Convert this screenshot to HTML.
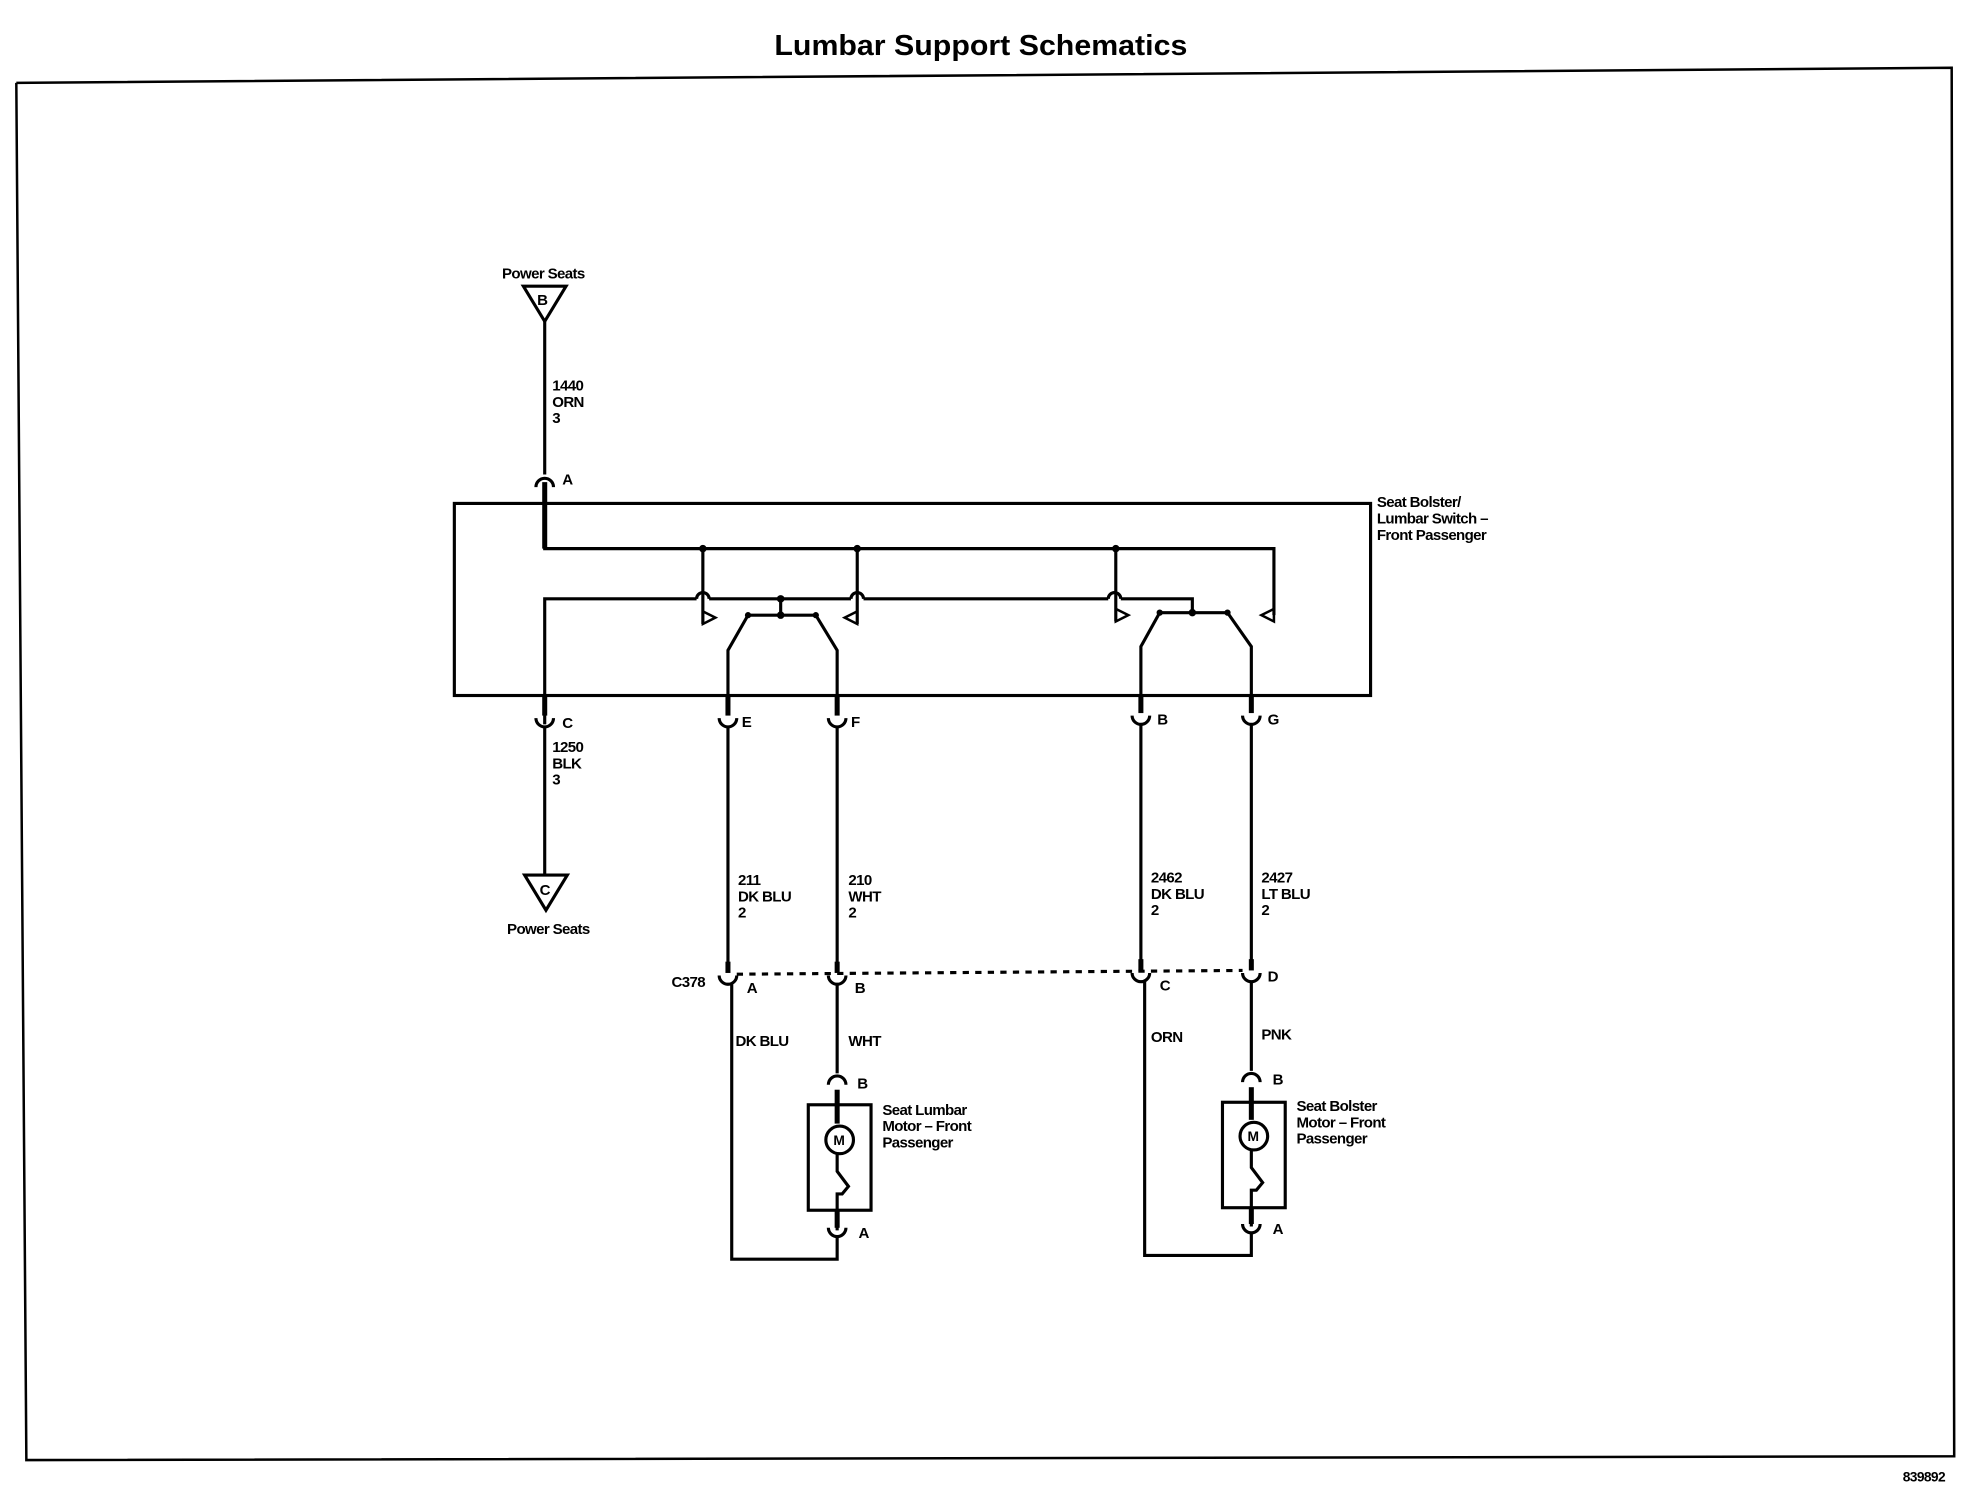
<!DOCTYPE html>
<html><head><style>html,body{margin:0;padding:0;background:#fff}svg{display:block}</style></head><body>
<svg width="1968" height="1504" viewBox="0 0 1568 1198" preserveAspectRatio="none" xmlns="http://www.w3.org/2000/svg" font-family="Liberation Sans, sans-serif" font-weight="bold">
<g fill="none" stroke="#000" stroke-width="2.5">
<polyline points="13,66 1555,54 1557,1160 21,1163 13,66" stroke-width="2"/>
<rect x="362" y="401" width="730" height="153"/>
<polygon points="417,228 451,228 434,256"/>
<line x1="434" y1="256" x2="434" y2="378"/>
<path d="M427,388 A7,7 0 0 1 441,388"/>
<line x1="434" y1="384" x2="434" y2="437" stroke-width="4"/>
<polyline points="434,400 434,437 1015,437 1015,490"/>
<polygon points="1015,485 1005,490 1015,495" stroke-width="2"/>
<polyline points="434,577 434,477 555,477"/><path d="M555,477 A5,5 0 0 1 565,477"/>
<line x1="565" y1="477" x2="678" y2="477"/><path d="M678,477 A5,5 0 0 1 688,477"/>
<line x1="688" y1="477" x2="883" y2="477"/><path d="M883,477 A5,5 0 0 1 893,477"/>
<polyline points="893,477 950,477 950,488"/>
<line x1="622" y1="477" x2="622" y2="490"/>
<line x1="560" y1="437" x2="560" y2="497"/><polygon points="560,487 570,492 560,497" stroke-width="2"/>
<line x1="683" y1="437" x2="683" y2="497"/><polygon points="683,487 673,492 683,497" stroke-width="2"/>
<line x1="596" y1="490" x2="650" y2="490"/>
<polyline points="596,490 580,518 580,568"/><polyline points="650,490 667,518 667,568"/>
<line x1="889" y1="437" x2="889" y2="495"/><polygon points="889,485 899,490 889,495" stroke-width="2"/>
<line x1="924" y1="488" x2="978" y2="488"/>
<polyline points="924,488 909,515 909,566"/><polyline points="978,488 997,515 997,566"/>
<line x1="434" y1="555" x2="434" y2="570" stroke-width="4"/>
<path d="M427,572 A7,7 0 0 0 441,572"/>
<line x1="434" y1="579" x2="434" y2="697"/>
<polygon points="418,697 452,697 435,725"/>
<g stroke-width="4"><line x1="580" y1="555" x2="580" y2="570"/><line x1="667" y1="555" x2="667" y2="570"/><line x1="909" y1="555" x2="909" y2="568"/><line x1="997" y1="555" x2="997" y2="568"/></g>
<path d="M573,572 A7,7 0 0 0 587,572"/><path d="M660,572 A7,7 0 0 0 674,572"/>
<path d="M902,570 A7,7 0 0 0 916,570"/><path d="M990,570 A7,7 0 0 0 1004,570"/>
<line x1="580" y1="579" x2="580" y2="768"/><line x1="667" y1="579" x2="667" y2="768"/>
<line x1="909" y1="577" x2="909" y2="766"/><line x1="997" y1="577" x2="997" y2="766"/>
<g stroke-width="4"><line x1="580" y1="766" x2="580" y2="775"/><line x1="667" y1="766" x2="667" y2="775"/><line x1="909" y1="764" x2="909" y2="773"/><line x1="997" y1="764" x2="997" y2="773"/></g>
<path d="M573,777 A7,7 0 0 0 587,777"/><path d="M660,777 A7,7 0 0 0 674,777"/>
<path d="M902,775 A7,7 0 0 0 916,775"/><path d="M990,775 A7,7 0 0 0 1004,775"/>
<line x1="587" y1="776" x2="990" y2="773" stroke-dasharray="5,5"/>
<polyline points="667,784 667,855"/>
<path d="M660,864 A7,7 0 0 1 674,864"/>
<line x1="667" y1="868" x2="667" y2="895" stroke-width="4"/>
<rect x="644" y="880" width="50" height="84"/>
<circle cx="669" cy="908" r="11"/>
<polyline points="667,919 667,933 676,945 671,951 667,951 667,980"/>
<line x1="667" y1="964" x2="667" y2="978" stroke-width="4"/>
<path d="M660,978 A7,7 0 0 0 674,978"/>
<polyline points="667,985 667,1003 583,1003 583,784"/>
<polyline points="997,782 997,853"/>
<path d="M990,862 A7,7 0 0 1 1004,862"/>
<line x1="997" y1="866" x2="997" y2="892" stroke-width="4"/>
<rect x="974" y="878" width="50" height="84"/>
<circle cx="999" cy="905" r="11"/>
<polyline points="997,916 997,930 1006,942 1001,948 997,948 997,977"/>
<line x1="997" y1="962" x2="997" y2="975" stroke-width="4"/>
<path d="M990,975 A7,7 0 0 0 1004,975"/>
<polyline points="997,982 997,1000 912,1000 912,782"/>
</g>
<g fill="#000" stroke="none">
<circle cx="560" cy="437" r="3"/><circle cx="683" cy="437" r="3"/><circle cx="889" cy="437" r="3"/><circle cx="622" cy="477" r="3"/><circle cx="622" cy="490" r="3"/><circle cx="950" cy="488" r="3"/>
<circle cx="596" cy="490" r="2.5"/><circle cx="650" cy="490" r="2.5"/><circle cx="924" cy="488" r="2.5"/><circle cx="978" cy="488" r="2.5"/>
</g>
<g font-size="12" fill="#000" letter-spacing="-0.5">
<text x="617" y="44" font-size="23" letter-spacing="0" textLength="329" lengthAdjust="spacingAndGlyphs">Lumbar Support Schematics</text>
<text x="400" y="222">Power Seats</text><text x="428" y="243" font-size="12">B</text>
<text x="440" y="311">1440</text><text x="440" y="324">ORN</text><text x="440" y="337">3</text>
<text x="448" y="386">A</text>
<text x="1097" y="404">Seat Bolster/</text><text x="1097" y="417">Lumbar Switch –</text><text x="1097" y="430">Front Passenger</text>
<text x="448" y="580">C</text><text x="440" y="599">1250</text><text x="440" y="612">BLK</text><text x="440" y="625">3</text>
<text x="430" y="713">C</text><text x="404" y="744">Power Seats</text>
<text x="591" y="579">E</text><text x="678" y="579">F</text><text x="922" y="577">B</text><text x="1010" y="577">G</text>
<text x="588" y="705">211</text><text x="588" y="718">DK BLU</text><text x="588" y="731">2</text>
<text x="676" y="705">210</text><text x="676" y="718">WHT</text><text x="676" y="731">2</text>
<text x="917" y="703">2462</text><text x="917" y="716">DK BLU</text><text x="917" y="729">2</text>
<text x="1005" y="703">2427</text><text x="1005" y="716">LT BLU</text><text x="1005" y="729">2</text>
<text x="535" y="786">C378</text><text x="595" y="791">A</text><text x="681" y="791">B</text><text x="924" y="789">C</text><text x="1010" y="782">D</text>
<text x="586" y="833">DK BLU</text><text x="676" y="833">WHT</text><text x="917" y="830">ORN</text><text x="1005" y="828">PNK</text>
<text x="683" y="867">B</text><text x="1014" y="864">B</text>
<text x="703" y="888">Seat Lumbar</text><text x="703" y="901">Motor – Front</text><text x="703" y="914">Passenger</text>
<text x="1033" y="885">Seat Bolster</text><text x="1033" y="898">Motor – Front</text><text x="1033" y="911">Passenger</text>
<text x="664" y="912" font-size="11">M</text><text x="994" y="909" font-size="11">M</text>
<text x="684" y="986">A</text><text x="1014" y="983">A</text>
<text x="1516" y="1180" font-size="11">839892</text>
</g>
</svg>
</body></html>
